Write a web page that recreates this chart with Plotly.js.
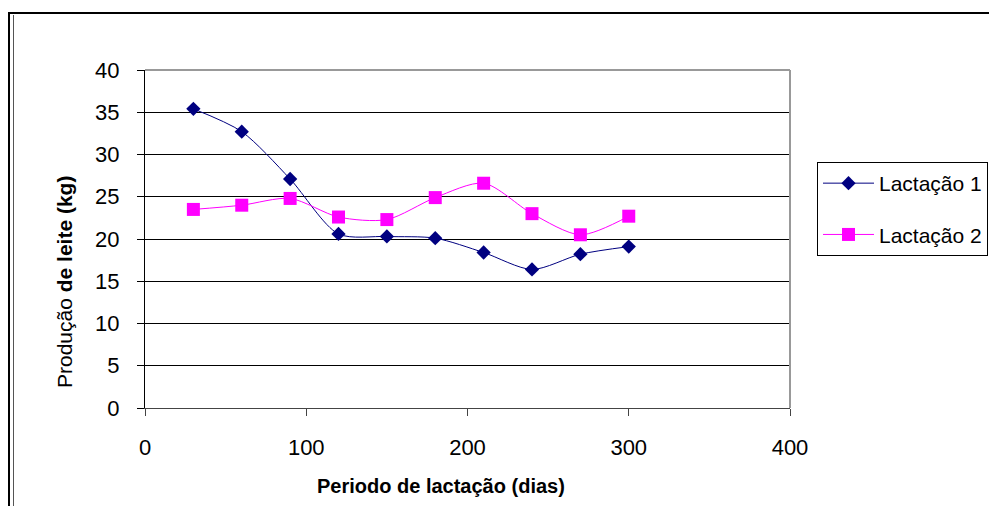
<!DOCTYPE html>
<html>
<head>
<meta charset="utf-8">
<script src="https://cdn.plot.ly/plotly-3.0.1.min.js"></script>
<style>
  html, body { margin: 0; padding: 0; background: #fff; }
  #wrap { position: relative; width: 989px; height: 506px; overflow: hidden; }
  #chart { position: absolute; left: 0; top: 0; width: 989px; height: 506px; }
  .frame-outer { position: absolute; left: 8px; top: 12px; width: 1000px; height: 520px;
                 border-top: 2px solid #000; border-left: 2px solid #000; pointer-events: none; z-index: 5; }
  .frame-inner { position: absolute; left: 13px; top: 15px; width: 1px; height: 520px;
                 background: #555; pointer-events: none; z-index: 5; }
</style>
</head>
<body>
<div id="wrap">
  <div id="chart"></div>
  <div class="frame-outer"></div>
  <div class="frame-inner"></div>
</div>
<script>
// Data
const days = [30, 60, 90, 120, 150, 180, 210, 240, 270, 300];
const lactacao1 = [35.4, 32.7, 27.1, 20.6, 20.3, 20.1, 18.4, 16.4, 18.2, 19.1];
const lactacao2 = [23.5, 24.0, 24.8, 22.6, 22.3, 24.9, 26.6, 23.0, 20.5, 22.7];
const seriesNames = ["Lactação 1", "Lactação 2"];
const yTicks = [0, 5, 10, 15, 20, 25, 30, 35, 40];
const xTicks = [0, 100, 200, 300, 400];

const font = "Liberation Sans, Arial, sans-serif";

const traces = [
  {
    x: days, y: lactacao1, name: seriesNames[0], type: "scatter", mode: "lines+markers",
    line: { color: "#000080", width: 1, shape: "spline", smoothing: 0.8 },
    marker: { symbol: "diamond", size: 11, color: "#000080" },
    legendgroup: "a"
  },
  {
    x: days, y: lactacao2, name: seriesNames[1], type: "scatter", mode: "lines+markers",
    line: { color: "#FF00FF", width: 1, shape: "spline", smoothing: 0.8 },
    marker: { symbol: "square", size: 13, color: "#FF00FF" },
    legendgroup: "b"
  }
];

const layout = {
  width: 989, height: 506,
  margin: { l: 145, r: 199, t: 70, b: 98, autoexpand: false },
  paper_bgcolor: "#fff", plot_bgcolor: "#fff",
  font: { family: font, color: "#000" },
  showlegend: true,
  legend: {
    x: (817 - 145) / 645, xanchor: "left", y: (408 - 162) / 338, yanchor: "top",
    bgcolor: "#fff", bordercolor: "#000", borderwidth: 1,
    font: { family: font, size: 21, color: "#000" },
    tracegroupgap: 21, traceorder: "grouped", itemwidth: 51
  },
  xaxis: {
    range: [0, 400], tickvals: xTicks, ticktext: xTicks.map(String),
    showgrid: false, zeroline: false,
    showline: true, linecolor: "#444", linewidth: 1,
    ticks: "outside", ticklen: 7, tickcolor: "#444", tickwidth: 1,
    tickfont: { family: font, size: 22, color: "#000" },
    ticklabelstandoff: 13
  },
  yaxis: {
    range: [0, 40], tickvals: yTicks, ticktext: yTicks.map(String),
    showgrid: true, gridcolor: "#000", gridwidth: 1,
    zeroline: false,
    showline: true, linecolor: "#000", linewidth: 1,
    ticks: "outside", ticklen: 7, tickcolor: "#000", tickwidth: 1,
    tickfont: { family: font, size: 22, color: "#000" },
    ticklabelstandoff: 13
  },
  shapes: [
    { type: "line", xref: "paper", yref: "paper", x0: 0, x1: 1, y0: 1, y1: 1,
      line: { color: "#999", width: 2 }, layer: "above" },
    { type: "line", xref: "paper", yref: "paper", x0: 1, x1: 1, y0: 0, y1: 1,
      line: { color: "#999", width: 2 }, layer: "above" }
  ],
  annotations: [
    { text: "<b>Periodo de lactação (dias)</b>", xref: "paper", yref: "paper",
      x: (441 - 145) / 645, y: -(486 - 408) / 338, xanchor: "center", yanchor: "middle",
      showarrow: false, font: { family: font, size: 20, color: "#000" } },
    { text: "Produção <b>de leite (kg)</b>", xref: "paper", yref: "paper", textangle: -90,
      x: -(145 - 64) / 645, y: (408 - 282) / 338, xanchor: "center", yanchor: "middle",
      showarrow: false, font: { family: font, size: 21, color: "#000" } }
  ]
};

Plotly.newPlot("chart", traces, layout, { displayModeBar: false, staticPlot: true });
</script>
</body>
</html>
